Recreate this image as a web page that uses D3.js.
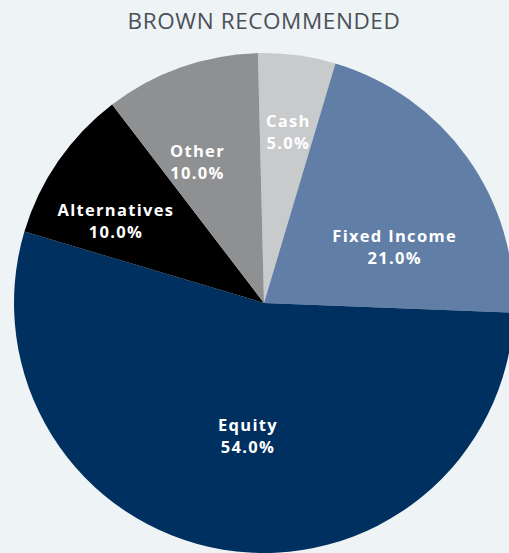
<!DOCTYPE html>
<html>
<head>
<meta charset="utf-8">
<script src="https://cdn.jsdelivr.net/npm/d3@7"></script>
<style>
  html, body { margin: 0; padding: 0; background: #eef3f6; overflow: hidden; }
  .title { font-family: "Open Sans", sans-serif; font-weight: 400; fill: #4b5057; letter-spacing: 0.6px; }
  .sliceLabel { font-family: "Open Sans", sans-serif; font-weight: 700; fill: #ffffff; letter-spacing: 1.3px; }
</style>
</head>
<body>
<div id="chart"></div>
<script>
const width = 509;
const height = 553;

const title = "BROWN RECOMMENDED";
const categories = ["Cash", "Fixed Income", "Equity", "Alternatives", "Other"];
const values = [5.0, 21.0, 54.0, 10.0, 10.0];
const colors = ["#c9cacc", "#617ea6", "#00305f", "#000000", "#8f9092"];

// label placement tweaks (degrees off the slice middle, distance from centre)
const labelShift = [0.5, 12.5, -2.5, -5.8, -6];
const labelDist = [172, 142, 134, 169, 155];

const cx = 264;
const cy = 303;
const radius = 250;
const startAngle = -1.4 * Math.PI / 180;
const lineGap = 22;
const fontSize = 16.5;

const svg = d3.select("#chart")
    .append("svg")
    .attr("width", width)
    .attr("height", height);

svg.append("rect")
    .attr("width", width)
    .attr("height", height)
    .attr("fill", "#eef3f6");

svg.append("text")
    .attr("class", "title")
    .attr("x", cx)
    .attr("y", 29)
    .attr("text-anchor", "middle")
    .style("font-size", "22.5px")
    .text(title);

const pie = d3.pie()
    .sort(null)
    .startAngle(startAngle)
    .endAngle(startAngle + 2 * Math.PI);

const arcs = pie(values);

const arc = d3.arc()
    .innerRadius(0)
    .outerRadius(radius);

const g = svg.append("g")
    .attr("transform", `translate(${cx},${cy})`);

g.selectAll("path")
    .data(arcs)
    .join("path")
    .attr("d", arc)
    .attr("fill", (d, i) => colors[i]);

const labels = g.selectAll("text")
    .data(arcs)
    .join("text")
    .attr("class", "sliceLabel")
    .attr("text-anchor", "middle")
    .style("font-size", fontSize + "px")
    .attr("transform", (d, i) => {
        const a = (d.startAngle + d.endAngle) / 2 + labelShift[i] * Math.PI / 180;
        const [x, y] = d3.pointRadial(a, labelDist[i]);
        return `translate(${x},${y})`;
    });

labels.append("tspan")
    .attr("x", 0)
    .attr("y", -5.5)
    .text((d, i) => categories[i]);

labels.append("tspan")
    .attr("x", 0)
    .attr("y", -5.5 + lineGap)
    .text((d, i) => values[i].toFixed(1) + "%");
</script>
</body>
</html>
